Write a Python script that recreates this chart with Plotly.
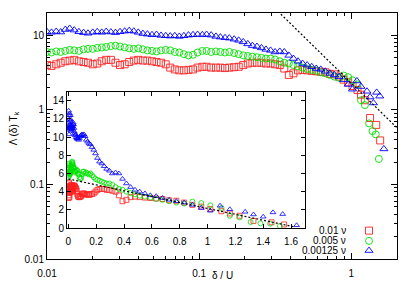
import plotly.graph_objects as go

# ---------------- data ----------------
low_x = [0.002, 0.003, 0.004, 0.005, 0.006, 0.007, 0.008, 0.009]
grid_x = [0.0100, 0.0107, 0.0115, 0.0123, 0.0132, 0.0141, 0.0151, 0.0162, 0.0174, 0.0186,
          0.0200, 0.0214, 0.0229, 0.0245, 0.0263, 0.0282, 0.0302, 0.0324, 0.0347, 0.0372,
          0.0398, 0.0427, 0.0457, 0.0490, 0.0525, 0.0562, 0.0603, 0.0646, 0.0692, 0.0741,
          0.0794, 0.0851, 0.0912, 0.0977, 0.105, 0.112, 0.120, 0.129, 0.138, 0.148,
          0.158, 0.170, 0.182, 0.195, 0.209, 0.224, 0.240, 0.257, 0.275, 0.295,
          0.316, 0.339, 0.363, 0.389, 0.417, 0.447, 0.479, 0.513, 0.550, 0.589,
          0.631, 0.676, 0.724, 0.776, 0.832, 0.891, 0.955, 1.02, 1.10]

blue_low = [12.9, 11.6, 12.4, 10.3, 11.9, 10.8, 12.6, 11.4]
blue_main = [11.2, 11.0, 11.3, 11.1, 12.0, 12.4, 11.8, 11.2, 10.9, 10.7,
             11.0, 11.2, 11.0, 11.3, 11.1, 10.9, 11.2, 11.4, 11.6, 11.4,
             11.0, 10.6, 10.4, 10.2, 10.3, 10.0, 9.9, 9.8, 9.9, 9.7,
             9.9, 10.1, 10.2, 10.3, 10.2, 10.3, 10.1, 9.7, 9.5, 9.3,
             9.2, 8.9, 8.6, 8.2, 7.7, 7.3, 7.1, 6.8, 6.5, 6.3,
             6.0, 6.1, 6.0, 5.4, 4.9, 4.5, 4.2, 4.0, 3.8, 3.6,
             3.5, 3.3, 3.1, 2.95, 2.8, 2.55, 2.2, 1.9]
blue_tail_x = [1.09, 1.16, 1.27, 1.33, 1.40, 1.47, 1.54, 1.64]
blue_tail_y = [2.45, 2.06, 1.78, 1.49, 1.24, 1.72, 1.53, 0.30]

green_low = [5.6, 6.9, 6.0, 7.1, 5.8, 6.6, 6.2, 6.8]
green_main = [6.0, 5.9, 6.1, 6.0, 6.2, 6.4, 6.3, 6.2, 6.5, 6.6,
              6.6, 6.8, 6.9, 7.0, 7.2, 7.3, 7.1, 6.9, 6.7, 6.6,
              6.7, 6.5, 6.3, 6.2, 6.1, 6.3, 6.4, 6.3, 6.0, 5.9,
              5.6, 5.4, 5.5, 5.9, 6.2, 6.2, 6.0, 6.1, 6.0, 5.9,
              6.0, 5.8, 5.6, 5.4, 5.3, 5.2, 5.1, 5.0, 4.9, 4.9,
              4.75, 4.5, 4.3, 4.2, 4.0, 3.85, 3.7, 3.55, 3.45, 3.35,
              3.2, 3.1, 2.95, 2.8, 2.7, 2.9, 2.75, 2.5, 2.2]
green_tail_x = [1.16, 1.23, 1.31, 1.38, 1.45, 1.52]
green_tail_y = [1.35, 1.16, 0.66, 0.52, 0.47, 0.22]

red_low = [3.3, 4.9, 3.6, 5.0, 3.9, 4.6, 3.4, 4.2]
red_main = [4.0, 3.9, 4.1, 4.3, 4.5, 4.6, 4.7, 4.5, 4.4, 4.3,
            4.1, 4.2, 4.5, 4.7, 4.7, 4.3, 4.0, 4.1, 4.4, 4.6,
            4.7, 4.6, 4.6, 4.5, 4.4, 4.3, 4.1, 3.7, 3.5, 3.4,
            3.4, 3.45, 3.5, 3.7, 3.8, 3.8, 3.7, 3.7, 3.7, 3.65,
            3.7, 3.75, 3.8, 4.0, 4.2, 4.3, 4.3, 4.3, 4.2, 4.2,
            4.1, 4.0, 3.6, 2.95, 3.1, 3.4, 3.45, 3.4, 3.35, 3.3,
            3.25, 3.2, 3.05, 3.0, 2.8, 2.55, 2.35, 2.1, 1.85]
red_tail_x = [1.16, 1.23, 1.33, 1.46, 1.55]
red_tail_y = [1.6, 1.35, 0.78, 0.63, 0.39]

# fitted guide lines
pow_x = [0.33, 2.0]
pow_y = [21.1, 0.575]
lin_x = [0.0, 1.62]
lin_y = [5.4, 0.14]

series_names = ["0.01 \u03bd", "0.005 \u03bd", "0.00125 \u03bd"]

# ---------------- assemble ----------------
red_x = low_x + grid_x + red_tail_x
red_y = red_low + red_main + red_tail_y
green_x = low_x + grid_x + green_tail_x
green_y = green_low + green_main + green_tail_y
blue_x = low_x + grid_x[:len(blue_main)] + blue_tail_x
blue_y = blue_low + blue_main + blue_tail_y

RED = "#ff2020"
GREEN = "#00e000"
BLUE = "#0000ff"
FONT = "Liberation Sans, Arial, sans-serif"

styles = [
    (red_x, red_y, "square-open", RED),
    (green_x, green_y, "circle-open", GREEN),
    (blue_x, blue_y, "triangle-up-open", BLUE),
]

fig = go.Figure()

for xs, ys, sym, col in styles:
    fig.add_trace(go.Scatter(x=xs, y=ys, mode="markers", xaxis="x", yaxis="y",
                             marker=dict(symbol=sym, size=7, color=col,
                                         line=dict(width=0.9, color=col)),
                             showlegend=False, hoverinfo="skip"))
fig.add_trace(go.Scatter(x=pow_x, y=pow_y, mode="lines", xaxis="x", yaxis="y",
                         line=dict(color="black", width=1.2, dash="2px,2px"),
                         showlegend=False, hoverinfo="skip"))

for xs, ys, sym, col in styles:
    fig.add_trace(go.Scatter(x=xs, y=ys, mode="markers", xaxis="x2", yaxis="y2",
                             marker=dict(symbol=sym, size=5, color=col,
                                         line=dict(width=0.8, color=col)),
                             showlegend=False, hoverinfo="skip"))
fig.add_trace(go.Scatter(x=lin_x, y=lin_y, mode="lines", xaxis="x2", yaxis="y2",
                         line=dict(color="black", width=1.2, dash="2px,2px"),
                         showlegend=False, hoverinfo="skip"))

# legend keys (on a hidden full-frame axis)
key_x = 0.92
key_ys = [0.1154, 0.0736, 0.0343]
for (xs, ys, sym, col), ky in zip(styles, key_ys):
    fig.add_trace(go.Scatter(x=[key_x], y=[ky], mode="markers", xaxis="x3", yaxis="y3",
                             marker=dict(symbol=sym, size=7, color=col,
                                         line=dict(width=0.9, color=col)),
                             showlegend=False, hoverinfo="skip"))

main_x_minor = [v * m for m in (0.01, 0.1, 1) for v in range(2, 10)]
main_x_minor = [v for v in main_x_minor if v <= 2.0]
main_y_minor = [v * m for m in (0.01, 0.1, 1, 10) for v in range(2, 10)]
main_y_minor = [v for v in main_y_minor if v <= 20]

axis_common = dict(showline=True, linecolor="black", linewidth=1, mirror="ticks",
                   ticks="inside", tickcolor="black", tickwidth=1, showgrid=False,
                   zeroline=False, tickfont=dict(family=FONT, size=10, color="black"))

fig.update_layout(
    width=415, height=291,
    margin=dict(l=47, r=18, t=13, b=24),
    paper_bgcolor="white", plot_bgcolor="rgba(0,0,0,0)",
    font=dict(family=FONT, size=10, color="black"),
    xaxis=dict(type="log", range=[-2, 0.30103], domain=[0, 1], anchor="y",
               tickvals=[0.01, 0.1, 1], ticktext=["0.01", "0.1", "1"], ticklen=6,
               ticklabelstandoff=5,
               minor=dict(ticks="inside", ticklen=3, tickcolor="black",
                          tickmode="array", tickvals=main_x_minor),
               **axis_common),
    yaxis=dict(type="log", range=[-2, 1.30103], domain=[0, 1], anchor="x",
               tickvals=[0.01, 0.1, 1, 10], ticktext=["0.01", "0.1", "1", "10"], ticklen=6,
               minor=dict(ticks="inside", ticklen=3, tickcolor="black",
                          tickmode="array", tickvals=main_y_minor),
               **axis_common),
    xaxis2=dict(range=[-0.01, 1.7], domain=[0.0571, 0.737], anchor="y2",
                tickvals=[0, 0.2, 0.4, 0.6, 0.8, 1, 1.2, 1.4, 1.6],
                ticktext=["0", "0.2", "0.4", "0.6", "0.8", "1", "1.2", "1.4", "1.6"],
                ticklen=4, ticklabelstandoff=4, **axis_common),
    yaxis2=dict(range=[0, 15], domain=[0.126, 0.680], anchor="x2",
                tickvals=[0, 2, 4, 6, 8, 10, 12, 14], ticklen=4, **axis_common),
    xaxis3=dict(range=[0, 1], domain=[0, 1], anchor="y3", visible=False, fixedrange=True),
    yaxis3=dict(range=[0, 1], domain=[0, 1], anchor="x3", visible=False, fixedrange=True),
    showlegend=False,
)

ann = []
for name, ky in zip(series_names, key_ys):
    ann.append(dict(text=name, x=0.86, y=ky, xref="paper", yref="paper",
                    xanchor="right", yanchor="middle", showarrow=False,
                    font=dict(family=FONT, size=10, color="black")))
ann.append(dict(text="\u039b (\u03b4) T<sub>k</sub>", x=-0.095, y=0.53, xref="paper", yref="paper",
                textangle=-90, xanchor="center", yanchor="middle", showarrow=False,
                font=dict(family=FONT, size=10, color="black")))
ann.append(dict(text="\u03b4 / U", x=0.5, y=-0.066, xref="paper", yref="paper",
                xanchor="center", yanchor="middle", showarrow=False,
                font=dict(family=FONT, size=10, color="black")))
fig.update_layout(annotations=ann)

fig.write_html("out.html", config={"displayModeBar": False},
               post_script="document.body.style.margin='0px';")
